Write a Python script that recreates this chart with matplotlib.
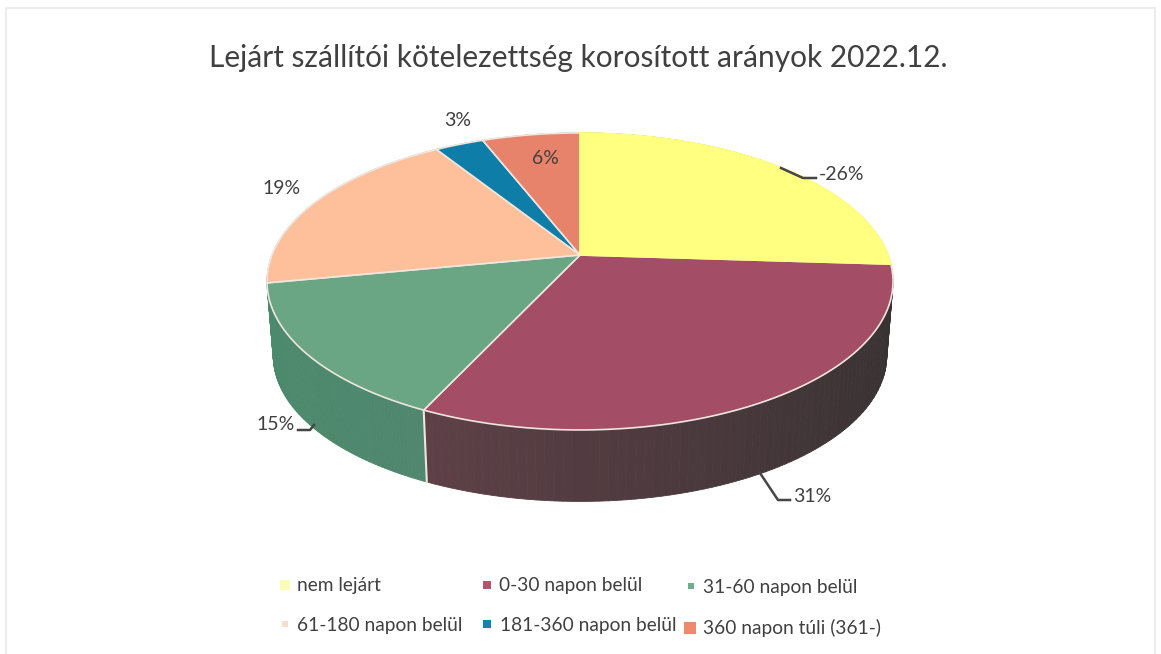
import numpy as np
import matplotlib
matplotlib.use('Agg')
import matplotlib.pyplot as plt
from matplotlib.colors import to_rgb

# DATA
categories = ['nem lejárt', '0-30 napon belül', '31-60 napon belül',
              '61-180 napon belül', '181-360 napon belül', '360 napon túli (361-)']
values = [26, 31, 15, 19, 3, 6]
value_labels = ['-26%', '31%', '15%', '19%', '3%', '6%']
top_colors = ['#ffff80', '#a34e66', '#6aa584', '#fdc09a', '#0e7ea8', '#e8836b']
wall_left = ['#3a3434', '#6e4750', '#4b8a6d', '#4b8a6d', '#4b8a6d', '#4b8a6d']
wall_right = ['#3a3434', '#383233', '#5c7e70', '#4b8a6d', '#4b8a6d', '#4b8a6d']
legend_colors = ['#fbfcb8', '#b0566f', '#6fae8c', '#fbdcd0', '#1583b0', '#ef8a70']
title = 'Lejárt szállítói kötelezettség korosított arányok 2022.12.'

plt.rcParams['font.family'] = ['Lato', 'DejaVu Sans']
TEXT = '#404040'

# pie geometry in image pixels
CX, CY = 580, 255
RX, RY, K = 308, 143.8, 0.178
DEPTH, SHRINK = 75, 0.98


def project(t):
    # tilted disc in perspective
    u, v = np.cos(t), np.sin(t)
    w = 1 + K * v
    return RX * u / w, -RY * v / w


def top_xy(t):
    x, y = project(t)
    return CX + x, CY + y


def base_xy(t):
    x, y = project(t)
    return CX + SHRINK * x, CY + SHRINK * y + DEPTH


fig = plt.figure(figsize=(11.61, 6.54), dpi=100)
ax = fig.add_axes([0, 0, 1, 1])
ax.set_xlim(0, 1161)
ax.set_ylim(654, 0)
ax.axis('off')

# faint scan border
ax.plot([6, 6, 1155, 1155], [654, 8, 8, 654], color='#ececec', lw=1.5)

ax.text(578, 58, title, ha='center', va='center', fontsize=21.5, color=TEXT)

# slice angles, clockwise from 12 o'clock
edges = np.pi / 2 - 2 * np.pi * np.cumsum([0] + values) / sum(values)
slices = list(zip(edges[:-1], edges[1:]))

# side wall, back slices first
for i in [3, 4, 5, 0, 2, 1]:
    a, b = slices[i]
    ts = np.linspace(a, b, 80)
    c0, c1 = np.array(to_rgb(wall_left[i])), np.array(to_rgb(wall_right[i]))
    for j in range(len(ts) - 1):
        tt = np.array([ts[j], ts[j + 1]])
        xt, yt = top_xy(tt)
        xb, yb = base_xy(tt)
        mix = (np.cos(ts[j]) + 1) / 2
        col = c0 * (1 - mix) + c1 * mix
        ax.fill([xt[0], xt[1], xb[1], xb[0]], [yt[0], yt[1], yb[1], yb[0]],
                color=col, lw=0.6, zorder=2)

# white seam between green and maroon on the wall
xt, yt = top_xy(edges[2])
xb, yb = base_xy(edges[2])
ax.plot([xt, xb], [yt, yb], color='#ece6df', lw=1.5, zorder=3)

# top face, yellow last so it has no pale seam
for i in [1, 2, 3, 4, 5, 0]:
    a, b = slices[i]
    xs, ys = top_xy(np.linspace(a, b, 150))
    edge = top_colors[i] if i == 0 else '#efe6df'
    ax.fill(np.r_[CX, xs], np.r_[CY, ys], facecolor=top_colors[i], edgecolor=edge,
            lw=1.2, joinstyle='round', zorder=4)

# leader lines
ax.plot([781, 803, 816], [168, 178, 178], color='#454545', lw=1.8, zorder=5)
ax.plot([760, 778, 790], [473, 500, 500], color='#454545', lw=1.8, zorder=5)
ax.plot([298, 310, 314], [430, 430, 425], color='#454545', lw=1.8, zorder=5)

# data labels
label_x = [841, 812, 276, 282, 458, 545]
label_y = [174, 497, 424, 188, 120, 158]
for s, x, y in zip(value_labels, label_x, label_y):
    ax.text(x, y, s, ha='center', va='center', fontsize=14, color=TEXT, zorder=6)

# legend
marker_x = [285, 487, 691, 285, 487, 690]
marker_y = [585, 585, 586, 624, 624, 628]
marker_s = [60, 34, 18, 22, 30, 80]
text_x = [297, 499, 703, 297, 500, 703]
text_y = [585, 586, 587, 625, 626, 628]
for name, col, mx, my, ms, tx, ty in zip(categories, legend_colors, marker_x, marker_y,
                                         marker_s, text_x, text_y):
    ax.scatter([mx], [my], s=ms, marker='s', color=col, lw=0, zorder=5)
    ax.text(tx, ty, name, ha='left', va='center', fontsize=13.8, color=TEXT)

plt.savefig('out.png', dpi=100)
